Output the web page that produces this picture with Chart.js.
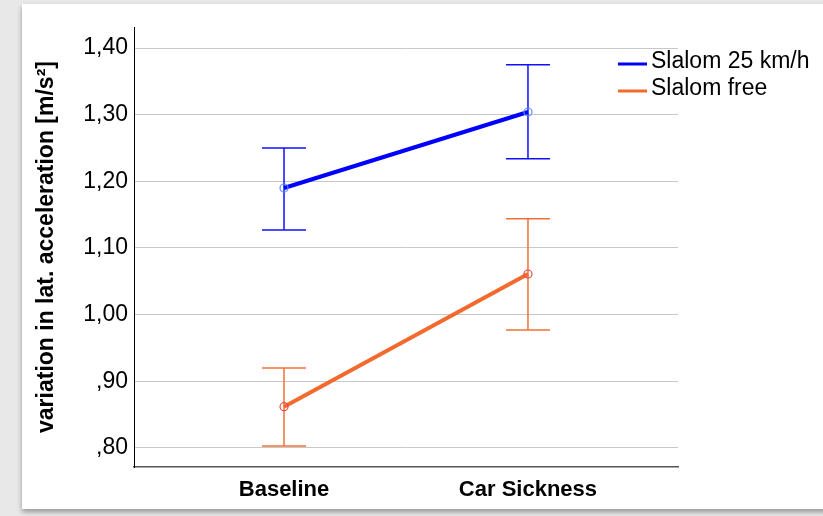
<!DOCTYPE html>
<html>
<head>
<meta charset="utf-8">
<script src="https://cdn.jsdelivr.net/npm/chart.js"></script>
<style>
  html, body { margin: 0; padding: 0; background: #e8e8e8; overflow: hidden; }
  .card { position: absolute; left: 22px; top: 4px; width: 820px; height: 505px; background: #fff;
          box-shadow: 0 3px 5px rgba(0,0,0,0.35); }
  #chart { position: absolute; left: 0; top: 0; }
</style>
</head>
<body>
<div class="card"></div>
<canvas id="chart" width="823" height="516"></canvas>
<script>
const categories = ["Baseline", "Car Sickness"];

const slalom25 = [1.190, 1.304];
const slalom25Low = [1.127, 1.234];
const slalom25High = [1.250, 1.375];

const slalomFree = [0.862, 1.061];
const slalomFreeLow = [0.803, 0.977];
const slalomFreeHigh = [0.920, 1.144];

const yTicks = [0.8, 0.9, 1.0, 1.1, 1.2, 1.3, 1.4];

const FONT = "Arial, 'Liberation Sans', sans-serif";

function toPoints(values) {
    return values.map((v, i) => ({ x: i, y: v }));
}

function fmtTick(v) {
    let s = v.toFixed(2).replace(".", ",");
    if (s.startsWith("0")) s = s.slice(1);
    return s;
}

// error bars, drawn under the lines
const errorBars = {
    id: "errorBars",
    beforeDatasetsDraw(chart) {
        const ctx = chart.ctx;
        const xs = chart.scales.x;
        const ys = chart.scales.y;
        chart.data.datasets.forEach((ds) => {
            ctx.save();
            ctx.strokeStyle = ds.errColor;
            ctx.lineWidth = 1.5;
            ds.low.forEach((lo, i) => {
                const x = xs.getPixelForValue(i);
                const yLo = ys.getPixelForValue(lo);
                const yHi = ys.getPixelForValue(ds.high[i]);
                ctx.beginPath();
                ctx.moveTo(x, yLo);
                ctx.lineTo(x, yHi);
                ctx.moveTo(x - 22, yLo);
                ctx.lineTo(x + 22, yLo);
                ctx.moveTo(x - 22, yHi);
                ctx.lineTo(x + 22, yHi);
                ctx.stroke();
            });
            ctx.restore();
        });
    }
};

// legend at the top right
const sideLegend = {
    id: "sideLegend",
    afterDraw(chart) {
        const ctx = chart.ctx;
        ctx.save();
        ctx.font = "23px " + FONT;
        ctx.fillStyle = "#000";
        ctx.textBaseline = "alphabetic";
        chart.data.datasets.forEach((ds, i) => {
            const y = 64 + i * 27;
            ctx.strokeStyle = ds.borderColor;
            ctx.lineWidth = 3;
            ctx.beginPath();
            ctx.moveTo(618, y);
            ctx.lineTo(647, y);
            ctx.stroke();
            ctx.fillText(ds.label, 651, y + 4);
        });
        ctx.restore();
    }
};

new Chart(document.getElementById("chart"), {
    type: "line",
    data: {
        datasets: [
            {
                label: "Slalom 25 km/h",
                data: toPoints(slalom25),
                low: slalom25Low,
                high: slalom25High,
                borderColor: "#0000ff",
                errColor: "#1010ff",
                borderWidth: 4,
                pointRadius: 4,
                pointBorderWidth: 1.2,
                pointBorderColor: "#5a8cff",
                pointBackgroundColor: "rgba(255,255,255,0)",
            },
            {
                label: "Slalom free",
                data: toPoints(slalomFree),
                low: slalomFreeLow,
                high: slalomFreeHigh,
                borderColor: "#f26a2e",
                errColor: "#f27038",
                borderWidth: 4,
                pointRadius: 4,
                pointBorderWidth: 1.2,
                pointBorderColor: "#e84a4a",
                pointBackgroundColor: "rgba(255,255,255,0)",
            },
        ],
    },
    options: {
        responsive: false,
        animation: false,
        layout: { padding: { left: 0, right: 145, top: 27, bottom: 0 } },
        plugins: { legend: { display: false }, tooltip: { enabled: false } },
        scales: {
            x: {
                type: "linear",
                min: -0.615,
                max: 1.615,
                afterBuildTicks: (axis) => { axis.ticks = categories.map((c, i) => ({ value: i })); },
                afterFit: (axis) => { axis.height = 49; },
                grid: { display: false },
                border: { color: "#555", width: 1.5 },
                ticks: {
                    color: "#000",
                    padding: 2,
                    maxRotation: 0,
                    font: { family: FONT, size: 22, weight: "bold" },
                    callback: (v) => categories[v],
                },
            },
            y: {
                min: 0.7715,
                max: 1.4315,
                afterBuildTicks: (axis) => { axis.ticks = yTicks.map((v) => ({ value: v })); },
                afterFit: (axis) => { axis.width = 134; },
                grid: { color: "#c8c8c8", lineWidth: 1, drawTicks: false },
                border: { color: "#000", width: 1 },
                ticks: {
                    color: "#000",
                    padding: 6,
                    font: { family: FONT, size: 23 },
                    callback: (v) => fmtTick(v),
                },
                title: {
                    display: true,
                    text: "variation in lat. acceleration [m/s²]",
                    color: "#000",
                    padding: { top: 33, bottom: 0 },
                    font: { family: FONT, size: 23, weight: "bold" },
                },
            },
        },
    },
    plugins: [errorBars, sideLegend],
});
</script>
</body>
</html>
